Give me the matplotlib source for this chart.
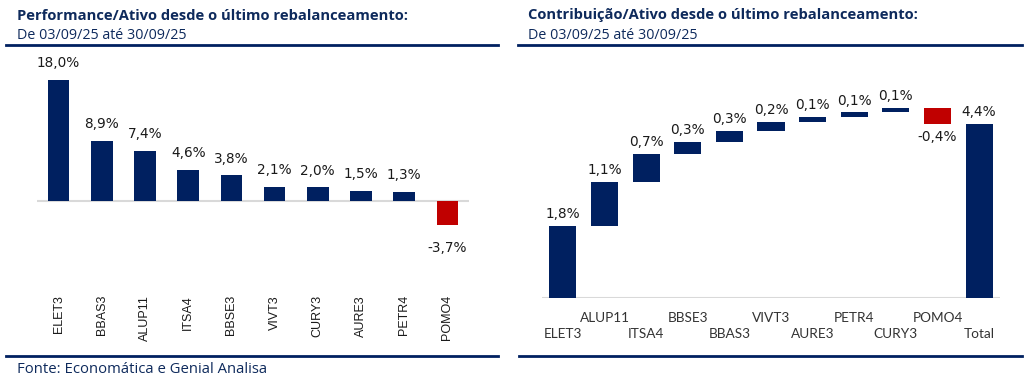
import matplotlib
matplotlib.use("Agg")
import matplotlib.pyplot as plt
from matplotlib.lines import Line2D
import numpy as np

# ---------------- data ----------------
perf_tickers = ["ELET3", "BBAS3", "ALUP11", "ITSA4", "BBSE3", "VIVT3", "CURY3", "AURE3", "PETR4", "POMO4"]
perf_values = [18.0, 8.9, 7.4, 4.6, 3.8, 2.1, 2.0, 1.5, 1.3, -3.7]

contrib_tickers = ["ELET3", "ALUP11", "ITSA4", "BBSE3", "BBAS3", "VIVT3", "AURE3", "PETR4", "CURY3", "POMO4"]
contrib_values = [1.80, 1.12, 0.70, 0.30, 0.27, 0.22, 0.13, 0.12, 0.12, -0.42]
total_label = "Total"

title_left = "Performance/Ativo desde o último rebalanceamento:"
title_right = "Contribuição/Ativo desde o último rebalanceamento:"
subtitle = "De 03/09/25 até 30/09/25"
source = "Fonte: Economática e Genial Analisa"

# ---------------- style ----------------
W, H = 1024, 377
NAVY = "#002060"
RED = "#C00000"
HEAD = "#0E2A5C"
GRID = "#D9D9D9"
LAB = "#1A1A1A"

fig = plt.figure(figsize=(W / 100, H / 100), dpi=100)
fig.patch.set_facecolor("white")


def rect(x0, y0, x1, y1):
    return [x0 / W, 1 - y1 / H, (x1 - x0) / W, (y1 - y0) / H]


def fmt(v):
    return f"{v:.1f}".replace(".", ",") + "%"


def hline(x0, x1, y, lw=2.0):
    fig.add_artist(Line2D([x0 / W, x1 / W], [1 - y / H, 1 - y / H],
                          transform=fig.transFigure, color=NAVY, lw=lw))


# ---------------- headers ----------------
for x, t in [(17, title_left), (528, title_right)]:
    fig.text(x / W, 1 - 19.5 / H, t, fontsize=10.6, fontweight="bold", color=HEAD,
             family="Open Sans", va="baseline", ha="left")
    fig.text(x / W, 1 - 39 / H, subtitle, fontsize=10.3, color=HEAD,
             family="Open Sans", va="baseline", ha="left")
hline(6, 498, 44.5)
hline(518, 1022, 44.5)
hline(6, 498, 356)
hline(519, 1022, 356)
fig.text(17 / W, 1 - 373 / H, source, fontsize=10.7, color=HEAD,
         family="Open Sans", va="baseline", ha="left")

# ---------------- left chart ----------------
axL = fig.add_axes(rect(37, 60, 469, 290))
xL = np.arange(len(perf_values))
colsL = [NAVY if v >= 0 else RED for v in perf_values]
axL.bar(xL, perf_values, width=0.5, color=colsL, zorder=3)
axL.axhline(0, color=GRID, lw=1.5, zorder=2)
axL.set_xlim(-0.5, len(perf_values) - 0.5)
axL.set_ylim(-13.33, 21.0)
for xi, v in zip(xL, perf_values):
    if v >= 0:
        axL.annotate(fmt(v), (xi, v), xytext=(0, 7), textcoords="offset points",
                     ha="center", va="bottom", fontsize=9.8, color=LAB)
    else:
        axL.annotate(fmt(v), (xi, v), xytext=(0, -11), textcoords="offset points",
                     ha="center", va="top", fontsize=9.8, color=LAB)
axL.set_xticks(xL)
axL.set_xticklabels(perf_tickers, rotation=90, family="Liberation Sans", fontsize=9,
                    color=LAB, va="top")
axL.tick_params(axis="x", length=0, pad=3.6)
axL.set_yticks([])
for s in axL.spines.values():
    s.set_visible(False)
axL.patch.set_alpha(0)

# ---------------- right chart (waterfall) ----------------
axR = fig.add_axes(rect(542, 80.2, 1000, 297.7))
vals = np.array(contrib_values)
ends = np.cumsum(vals)
starts = ends - vals
total = ends[-1]
xR = np.arange(len(vals) + 1)
colsR = [NAVY if v >= 0 else RED for v in vals]
axR.bar(xR[:-1], vals, bottom=starts, width=0.65, color=colsR, zorder=3)
axR.bar(xR[-1], total, width=0.65, color=NAVY, zorder=3)
axR.axhline(0, color=GRID, lw=1.5, zorder=2)
axR.set_xlim(-0.5, len(vals) + 0.5)
axR.set_ylim(0, 5.47)
for xi, v, s, e in zip(xR[:-1], vals, starts, ends):
    if v >= 0:
        axR.annotate(fmt(v), (xi, e), xytext=(0, 3.5), textcoords="offset points",
                     ha="center", va="bottom", fontsize=9.8, color=LAB)
    else:
        axR.annotate(fmt(v), (xi, e), xytext=(0, -4), textcoords="offset points",
                     ha="center", va="top", fontsize=9.8, color=LAB)
axR.annotate(fmt(total), (xR[-1], total), xytext=(0, 3.5), textcoords="offset points",
             ha="center", va="bottom", fontsize=9.8, color=LAB)
labelsR = contrib_tickers + [total_label]
# upper row: odd positions (major ticks); lower row: even positions (minor ticks)
axR.set_xticks(xR[1::2])
axR.set_xticklabels(labelsR[1::2], family="Lato", fontsize=9.8, color="#333333", va="top")
axR.set_xticks(xR[0::2], minor=True)
axR.set_xticklabels(labelsR[0::2], minor=True, family="Lato", fontsize=9.8,
                    color="#333333", va="top")
axR.tick_params(axis="x", which="major", length=0, pad=10)
axR.tick_params(axis="x", which="minor", length=0, pad=21.5)
axR.set_yticks([])
for s in axR.spines.values():
    s.set_visible(False)
axR.patch.set_alpha(0)

fig.savefig("out.png", dpi=100, facecolor="white")
